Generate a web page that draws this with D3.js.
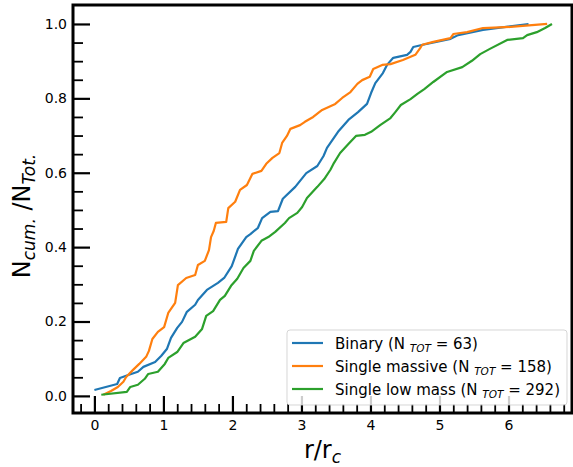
<!DOCTYPE html>
<html>
<head>
<meta charset="utf-8">
<script src="https://cdn.jsdelivr.net/npm/d3@7"></script>
<style>
  body { margin: 0; background: #fff; }
  text { font-family: "DejaVu Sans", sans-serif; fill: #000; }
</style>
</head>
<body>
<div class="cdfChart"></div>
<script>
// cumulative curves (r/r_c , N_cum/N_tot)
var binaryR = [0.00, 0.33, 0.37, 0.49, 0.63, 0.71, 0.88, 0.97, 1.05, 1.11, 1.20, 1.27, 1.34, 1.46, 1.50, 1.63, 1.79, 1.88, 1.99, 2.08, 2.20, 2.26, 2.37, 2.43, 2.55, 2.66, 2.73, 2.91, 3.07, 3.23, 3.32, 3.37, 3.53, 3.68, 3.82, 3.95, 4.01, 4.07, 4.18, 4.24, 4.33, 4.53, 4.58, 4.62, 4.76, 5.16, 5.27, 5.63, 6.29];
var binaryN = [0.016, 0.032, 0.048, 0.056, 0.065, 0.078, 0.091, 0.108, 0.126, 0.156, 0.183, 0.199, 0.226, 0.245, 0.258, 0.285, 0.304, 0.317, 0.349, 0.395, 0.427, 0.435, 0.452, 0.478, 0.495, 0.497, 0.530, 0.562, 0.599, 0.618, 0.645, 0.667, 0.710, 0.742, 0.763, 0.785, 0.815, 0.841, 0.868, 0.890, 0.909, 0.917, 0.925, 0.938, 0.944, 0.960, 0.970, 0.984, 1.000];

var massiveR = [0.13, 0.24, 0.34, 0.42, 0.46, 0.56, 0.65, 0.75, 0.79, 0.84, 0.92, 1.01, 1.07, 1.17, 1.21, 1.33, 1.46, 1.50, 1.60, 1.66, 1.69, 1.73, 1.76, 1.91, 1.94, 2.04, 2.11, 2.21, 2.29, 2.42, 2.49, 2.58, 2.68, 2.72, 2.79, 2.84, 2.98, 3.05, 3.17, 3.30, 3.49, 3.59, 3.71, 3.81, 3.88, 3.99, 4.04, 4.17, 4.29, 4.47, 4.65, 4.72, 4.75, 4.91, 5.16, 5.20, 5.40, 5.63, 6.03, 6.56];
var massiveN = [0.003, 0.013, 0.024, 0.038, 0.051, 0.070, 0.086, 0.105, 0.121, 0.153, 0.172, 0.185, 0.223, 0.250, 0.298, 0.317, 0.325, 0.352, 0.363, 0.392, 0.427, 0.444, 0.465, 0.468, 0.505, 0.522, 0.554, 0.567, 0.597, 0.605, 0.624, 0.640, 0.653, 0.680, 0.699, 0.718, 0.728, 0.737, 0.750, 0.769, 0.785, 0.801, 0.817, 0.839, 0.849, 0.858, 0.879, 0.890, 0.892, 0.903, 0.917, 0.935, 0.944, 0.952, 0.962, 0.973, 0.978, 0.989, 0.992, 1.000];

var lowMassR = [0.10, 0.47, 0.52, 0.63, 0.73, 0.78, 0.92, 1.02, 1.07, 1.20, 1.29, 1.46, 1.56, 1.62, 1.72, 1.82, 1.89, 1.98, 2.07, 2.16, 2.26, 2.31, 2.42, 2.52, 2.62, 2.76, 2.82, 2.94, 3.01, 3.08, 3.16, 3.23, 3.33, 3.42, 3.47, 3.56, 3.68, 3.79, 3.92, 4.01, 4.14, 4.29, 4.36, 4.44, 4.58, 4.68, 4.78, 4.91, 5.11, 5.33, 5.47, 5.59, 5.73, 5.98, 6.21, 6.27, 6.41, 6.53, 6.63];
var lowMassN = [0.003, 0.011, 0.024, 0.030, 0.046, 0.059, 0.065, 0.086, 0.102, 0.118, 0.142, 0.159, 0.180, 0.215, 0.228, 0.258, 0.269, 0.296, 0.315, 0.344, 0.363, 0.390, 0.417, 0.427, 0.441, 0.465, 0.478, 0.492, 0.508, 0.532, 0.548, 0.562, 0.583, 0.608, 0.626, 0.653, 0.677, 0.699, 0.702, 0.710, 0.728, 0.747, 0.763, 0.782, 0.798, 0.812, 0.825, 0.844, 0.871, 0.884, 0.901, 0.919, 0.933, 0.957, 0.962, 0.970, 0.978, 0.989, 1.000];

var seriesNames = ["Binary", "Single massive", "Single low mass"];
var seriesTotals = [63, 158, 292];
var colors = ["#1f77b4", "#ff7f0e", "#2ca02c"];
var xTicks = [0, 1, 2, 3, 4, 5, 6];
var yTicks = [0.0, 0.2, 0.4, 0.6, 0.8, 1.0];

var w = 573;
var h = 467;
var margin = {top: 5, right: 1, bottom: 54, left: 73};

var svg = d3.select(".cdfChart")
            .append("svg")
            .attr("width", w)
            .attr("height", h);

var xScale = d3.scaleLinear()
    .domain([-0.31, 6.92])
    .range([margin.left, w - margin.right]);

var yScale = d3.scaleLinear()
    .domain([-0.046, 1.051])
    .range([h - margin.bottom, margin.top]);

// minor ticks (inward)
var xMinor = d3.range(-0.2, 6.9, 0.2).filter(function (v) { return Math.abs(v - Math.round(v)) > 0.01; });
var yMinor = d3.range(0.05, 1.0, 0.05).filter(function (v) { return Math.abs(v * 5 - Math.round(v * 5)) > 0.01; });

var xMinorAxis = svg.append("g")
   .attr("transform", "translate(0," + (h - margin.bottom) + ")")
   .call(d3.axisBottom(xScale).tickValues(xMinor).tickSize(-9).tickFormat(""));

var yMinorAxis = svg.append("g")
   .attr("transform", "translate(" + margin.left + ",0)")
   .call(d3.axisLeft(yScale).tickValues(yMinor).tickSize(-10).tickFormat(""));

// major ticks
var xAxis = svg.append("g")
   .attr("transform", "translate(0," + (h - margin.bottom) + ")")
   .call(d3.axisBottom(xScale).tickValues(xTicks).tickSize(-17).tickPadding(7).tickFormat(d3.format("d")));

var yAxis = svg.append("g")
   .attr("transform", "translate(" + margin.left + ",0)")
   .call(d3.axisLeft(yScale).tickValues(yTicks).tickSize(-17).tickPadding(6).tickFormat(d3.format(".1f")));

svg.selectAll(".domain").remove();
svg.selectAll(".tick line").attr("stroke", "#000").attr("stroke-width", 1.8);
xAxis.selectAll(".tick line").attr("stroke-width", 2.2);
yAxis.selectAll(".tick line").attr("stroke-width", 2.2);
svg.selectAll(".tick text").attr("font-size", 14).attr("font-family", "DejaVu Sans, sans-serif").attr("fill", "#000");

// curves
var series = [d3.zip(binaryR, binaryN), d3.zip(massiveR, massiveN), d3.zip(lowMassR, lowMassN)];

var line = d3.line()
    .x(function (d) { return xScale(d[0]); })
    .y(function (d) { return yScale(d[1]); });

svg.selectAll(".curve")
   .data(series)
   .enter()
   .append("path")
   .attr("class", "curve")
   .attr("d", line)
   .attr("fill", "none")
   .attr("stroke", function (d, i) { return colors[i]; })
   .attr("stroke-width", 2.2)
   .attr("stroke-linejoin", "round");

// frame
svg.append("rect")
   .attr("x", margin.left)
   .attr("y", margin.top)
   .attr("width", w - margin.left - margin.right)
   .attr("height", h - margin.top - margin.bottom)
   .attr("fill", "none")
   .attr("stroke", "#000")
   .attr("stroke-width", 3);

// legend
var legend = svg.append("g").attr("transform", "translate(287,330)");

legend.append("rect")
   .attr("width", 280)
   .attr("height", 75)
   .attr("rx", 3)
   .attr("fill", "#fff")
   .attr("fill-opacity", 0.8)
   .attr("stroke", "#cccccc")
   .attr("stroke-opacity", 0.8);

var rows = legend.selectAll(".legendRow")
   .data(seriesNames)
   .enter()
   .append("g")
   .attr("class", "legendRow")
   .attr("transform", function (d, i) { return "translate(0," + (13 + i * 23) + ")"; });

rows.append("line")
   .attr("x1", 5)
   .attr("x2", 36)
   .attr("stroke", function (d, i) { return colors[i]; })
   .attr("stroke-width", 2.2);

var label = rows.append("text")
   .attr("x", 48)
   .attr("y", 5.5)
   .attr("font-size", 15);

label.append("tspan").text(function (d) { return d + " (N "; });
label.append("tspan").attr("font-size", 10.5).attr("font-style", "italic").attr("dy", 3).text("TOT");
label.append("tspan").attr("dy", -3).text(function (d, i) { return " = " + seriesTotals[i] + ")"; });

// axis labels
var xLabel = svg.append("text")
   .attr("x", (margin.left + w - margin.right) / 2)
   .attr("y", 458)
   .attr("text-anchor", "middle")
   .attr("font-size", 24);
xLabel.append("tspan").text("r/r");
xLabel.append("tspan").attr("font-size", 17).attr("font-style", "italic").attr("dy", 5).text("c");

var yLabel = svg.append("text")
   .attr("transform", "translate(30,216) rotate(-90)")
   .attr("text-anchor", "middle")
   .attr("font-size", 24);
yLabel.append("tspan").text("N");
yLabel.append("tspan").attr("font-size", 17).attr("font-style", "italic").attr("dy", 5).text("cum.");
yLabel.append("tspan").attr("dy", -5).text(" /N");
yLabel.append("tspan").attr("font-size", 17).attr("font-style", "italic").attr("dy", 5).text("Tot.");
</script>
</body>
</html>
